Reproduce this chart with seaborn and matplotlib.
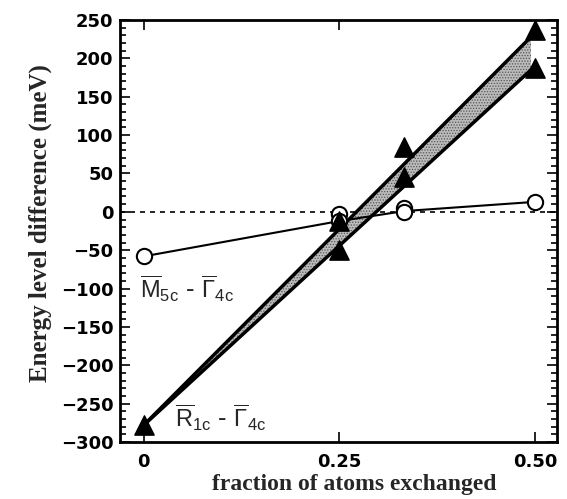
import numpy as np
import pandas as pd
import matplotlib
matplotlib.use("Agg")
import matplotlib.pyplot as plt
import seaborn as sns
from matplotlib.ticker import MultipleLocator

# ---- data ----
circle_x = [0.0, 0.25, 0.25, 0.333, 0.333, 0.5]
circle_y = [-58, -3, -12, 5, 0, 13]
circle_line_x = [0.0, 0.25, 0.333, 0.5]
circle_line_y = [-58, -12, 1, 13]

tri_x = [0.0, 0.25, 0.25, 0.333, 0.333, 0.5, 0.5]
tri_y = [-278, -12, -50, 85, 45, 237, 188]

band_x = [0.0, 0.495]
band_upper = [-278, 228]
band_lower = [-278, 185]

xticks = [0, 0.25, 0.5]
xtick_labels = ["0", "0.25", "0.50"]
yticks = list(range(-300, 251, 50))

sns.set_theme(style="ticks")
plt.rcParams["font.family"] = ["DejaVu Sans"]
plt.rcParams["mathtext.fontset"] = "custom"
plt.rcParams["mathtext.rm"] = "Liberation Sans"
plt.rcParams["mathtext.it"] = "Liberation Sans"
plt.rcParams["hatch.linewidth"] = 0.6
plt.rcParams["hatch.color"] = "#444444"

fig = plt.figure(figsize=(5.67, 4.99), dpi=100)
ax = fig.add_axes([0.212, 0.114, 0.770, 0.846])

# zero line
ax.axhline(0, color="black", lw=1.2, ls=(0, (3, 3)), zorder=1)

# shaded band
ax.fill_between(band_x, band_lower, band_upper, facecolor="#bbbbbb",
                hatch="......", edgecolor="#555555", lw=0, zorder=2)
sns.lineplot(x=band_x, y=band_upper, ax=ax, color="black", lw=2.5, zorder=3)
sns.lineplot(x=band_x, y=band_lower, ax=ax, color="black", lw=2.5, zorder=3)

# circle series
sns.lineplot(x=circle_line_x, y=circle_line_y, ax=ax, color="black", lw=1.5,
             sort=False, zorder=4)
ax.plot(circle_x, circle_y, ls="none", marker="o", ms=11, mfc="white",
        mec="black", mew=1.5, zorder=5)

# triangles
sns.scatterplot(x=tri_x, y=tri_y, ax=ax, marker="^", s=190, color="black",
                edgecolor="black", zorder=6)

ax.text(-0.005, -100, r"$\overline{\mathrm{M}}_{\mathrm{5c}}$ - $\overline{\Gamma}_{\mathrm{4c}}$",
        fontsize=17, va="center", ha="left", zorder=7)
ax.text(0.04, -268, r"$\overline{\mathrm{R}}_{\mathrm{1c}}$ - $\overline{\Gamma}_{\mathrm{4c}}$",
        fontsize=17, va="center", ha="left", zorder=7)

ax.set_xlim(-0.03, 0.528)
ax.set_ylim(-300, 250)
ax.set_xticks(xticks)
ax.set_xticklabels(xtick_labels)
ax.set_yticks(yticks)
ax.yaxis.set_minor_locator(MultipleLocator(10))
ax.tick_params(axis="both", which="both", direction="in", top=True, right=True,
               labelsize=13, width=1.2, colors="black")
ax.tick_params(axis="both", which="major", length=7)
ax.tick_params(axis="both", which="minor", length=4)
ax.tick_params(axis="x", pad=8)
ax.tick_params(axis="y", pad=5)
for lab in ax.get_xticklabels() + ax.get_yticklabels():
    lab.set_fontweight("bold")
for s in ax.spines.values():
    s.set_linewidth(2)
    s.set_color("black")

ax.set_xlabel("fraction of atoms exchanged", fontsize=17, fontweight="bold",
              family="Liberation Serif", labelpad=2)
ax.xaxis.label.set_x(0.535)
ax.set_ylabel("Energy level difference (meV)", fontsize=18, fontweight="bold",
              family="Liberation Serif", labelpad=6)
ax.yaxis.label.set_y(0.52)

fig.savefig("out.png", dpi=100)
